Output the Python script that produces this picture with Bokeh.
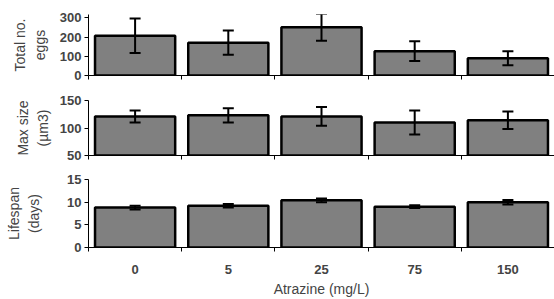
from bokeh.plotting import figure
from bokeh.models import (ColumnDataSource, Range1d, FixedTicker, LinearAxis,
                          Whisker, TeeHead, CustomJSTickFormatter)
from bokeh.layouts import column
from bokeh.embed import file_html
from bokeh.resources import INLINE

categories = ["0", "5", "25", "75", "150"]
eggs = [207, 171, 251, 127, 90]
eggs_err = [90, 63, 70, 51, 36]
size = [121, 123, 121, 110, 114]
size_err = [11, 13, 17, 22, 16]
lifespan = [8.8, 9.2, 10.4, 9.0, 10.0]
lifespan_err = [0.4, 0.4, 0.4, 0.3, 0.5]
y_titles = ["Total no.\neggs", "Max size\n(µm3)", "Lifespan\n(days)"]
x_title = "Atrazine (mg/L)"

FONT = "Liberation Sans"
W = 554


def make_fig(height, top_b, bot_b, yr, yticks, vals, errs, title,
             title_so, show_x):
    p = figure(width=W, height=height, x_range=Range1d(0, 5),
               y_range=Range1d(*yr), output_backend="svg",
               toolbar_location=None, min_border_left=88, min_border_right=0,
               min_border_top=top_b, min_border_bottom=bot_b,
               x_axis_type=None, y_axis_type=None)
    p.outline_line_color = None
    p.background_fill_color = "white"
    xs = [i + 0.5 for i in range(len(categories))]
    src = ColumnDataSource(dict(
        x=xs, top=vals,
        upper=[v + e for v, e in zip(vals, errs)],
        lower=[v - e for v, e in zip(vals, errs)]))
    p.vbar(x="x", top="top", bottom=yr[0], width=0.86, source=src,
           fill_color="#808080", line_color="black", line_width=2.5)
    p.add_layout(Whisker(source=src, base="x", upper="upper", lower="lower",
                         line_width=2, line_color="black", level="overlay",
                         upper_head=TeeHead(size=11, line_width=2, line_color="black"),
                         lower_head=TeeHead(size=11, line_width=2, line_color="black")))

    yax = LinearAxis(ticker=FixedTicker(ticks=yticks, minor_ticks=[]),
                     axis_label=title, axis_label_standoff=title_so,
                     axis_line_color="black", axis_line_width=1,
                     major_tick_out=4, major_tick_in=0,
                     major_label_standoff=3,
                     major_label_text_font=FONT,
                     major_label_text_font_style="bold",
                     major_label_text_font_size="13px",
                     axis_label_text_font=FONT,
                     axis_label_text_font_style="normal",
                     axis_label_text_font_size="14px",
                     axis_label_text_line_height=1.25)
    p.add_layout(yax, "left")

    xax = LinearAxis(ticker=FixedTicker(ticks=xs if show_x else [],
                                        minor_ticks=list(range(len(categories) + 1))),
                     formatter=CustomJSTickFormatter(args=dict(labels=categories),
                                                     code="return labels[Math.floor(tick)];"),
                     axis_line_color="black", axis_line_width=1,
                     major_tick_line_color=None, major_tick_out=0, major_tick_in=0,
                     minor_tick_out=4, minor_tick_in=0, minor_tick_line_color="black",
                     major_label_standoff=13,
                     major_label_text_font=FONT,
                     major_label_text_font_style="bold",
                     major_label_text_font_size="13px",
                     axis_label=(x_title if show_x else None),
                     axis_label_standoff=4,
                     axis_label_text_font=FONT,
                     axis_label_text_font_style="normal",
                     axis_label_text_font_size="14px")
    if not show_x:
        xax.major_label_text_font_size = "0px"
        xax.major_label_standoff = 0
    p.add_layout(xax, "below")
    return p


p1 = make_fig(88, 14, 13, (0, 318), [0, 100, 200, 300], eggs, eggs_err,
              y_titles[0], 9, False)
p2 = make_fig(77, 12, 10, (50, 150), [50, 100, 150], size, size_err,
              y_titles[1], 6, False)
p3 = make_fig(134, 14, 47, (0, 15), [0, 5, 10, 15], lifespan, lifespan_err,
              y_titles[2], 22, True)

layout = column(p1, p2, p3, spacing=0)
open("out.html", "w").write(file_html(layout, INLINE))
